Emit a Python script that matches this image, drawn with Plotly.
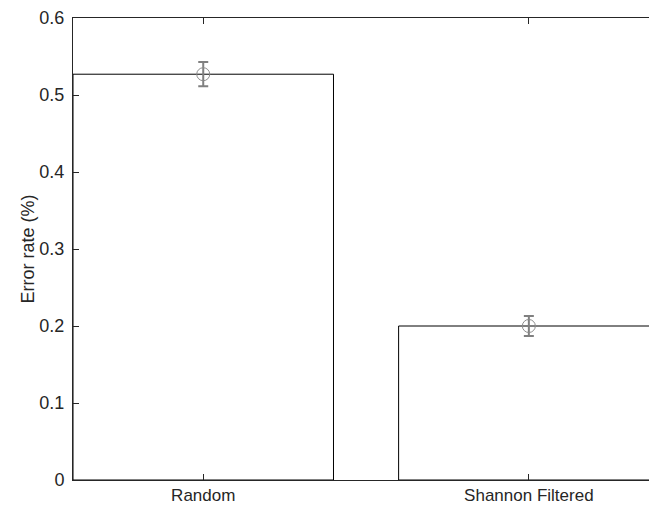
import plotly.graph_objects as go

categories = ["Random", "Shannon Filtered"]
error_rate = [0.527, 0.200]
error_sd = [0.0157, 0.013]
y_ticks = [0, 0.1, 0.2, 0.3, 0.4, 0.5, 0.6]
y_tick_labels = ["0", "0.1", "0.2", "0.3", "0.4", "0.5", "0.6"]

xpos = [1, 2]
axis_col = "#262626"

fig = go.Figure()
fig.add_trace(go.Bar(
    x=xpos, y=error_rate, width=0.8,
    marker=dict(color="white", line=dict(color="black", width=1)),
    showlegend=False, hoverinfo="skip",
))
fig.add_trace(go.Scatter(
    x=xpos, y=error_rate, mode="markers",
    marker=dict(symbol="circle-open", size=13, color="#8c8c8c", line=dict(width=1)),
    error_y=dict(type="data", array=error_sd, visible=True, color="#808080",
                 thickness=2, width=5),
    showlegend=False,
))

fig.update_layout(
    width=649, height=508,
    margin=dict(l=73, r=0, t=18, b=28),
    plot_bgcolor="white", paper_bgcolor="white",
    font=dict(family="Liberation Sans, Arial, sans-serif", size=18, color=axis_col),
    bargap=0.2,
)
fig.update_xaxes(
    range=[0.6, 2.369], tickmode="array", tickvals=xpos, ticktext=categories,
    showline=True, linecolor=axis_col, linewidth=1, mirror="ticks",
    ticks="inside", ticklen=6, tickcolor=axis_col, showgrid=False, zeroline=False,
    tickfont=dict(size=17), ticklabelstandoff=0,
)
fig.update_yaxes(
    range=[0, 0.6], tickmode="array", tickvals=y_ticks, ticktext=y_tick_labels,
    showline=True, linecolor=axis_col, linewidth=1,
    ticks="inside", ticklen=6, tickcolor=axis_col, showgrid=False, zeroline=False,
    title=dict(text="Error rate (%)", font=dict(size=18), standoff=0),
    tickfont=dict(size=18), ticklabelstandoff=4,
)

fig.write_html("out.html", config={"displayModeBar": False},
               post_script="document.body.style.margin='0';document.body.style.overflow='hidden';")
